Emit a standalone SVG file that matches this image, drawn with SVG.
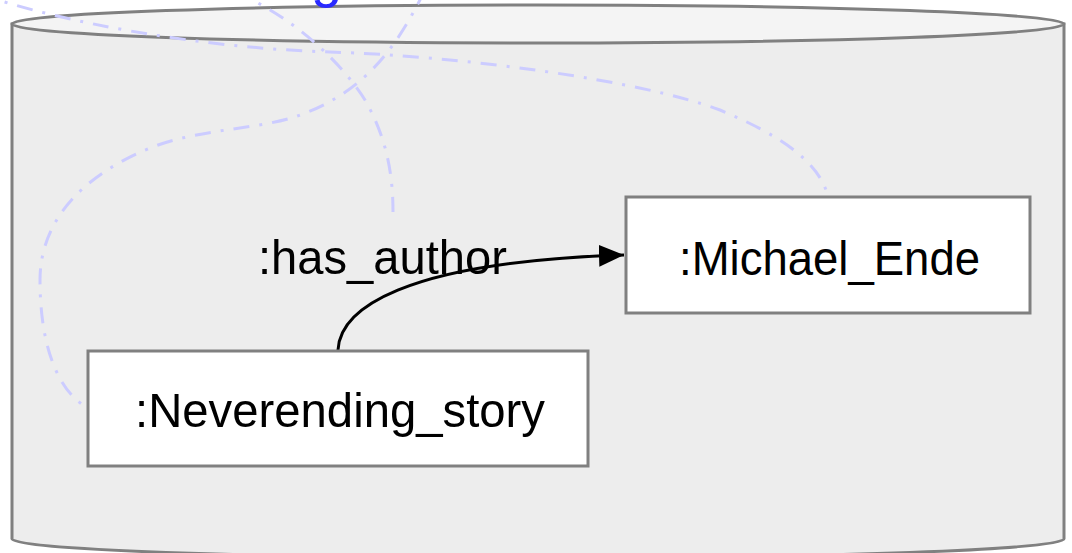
<svg xmlns="http://www.w3.org/2000/svg" width="1072" height="553" viewBox="0 0 1072 553">
  <defs>
    <style>
      .cyl { stroke: #808080; stroke-width: 3; }
      .dash { fill: none; stroke: #ccccff; stroke-width: 3; stroke-dasharray: 16 10 3 10; }
      .box { fill: #ffffff; stroke: #808080; stroke-width: 3; }
      .lbl { font-family: "Liberation Sans", Arial, sans-serif; font-size: 49px; fill: #000000; }
      .edge { fill: none; stroke: #000000; stroke-width: 3; }
    </style>
    <marker id="arrow" viewBox="0 0 25 22" refX="25" refY="11" markerWidth="25" markerHeight="22" markerUnits="userSpaceOnUse" orient="auto">
      <path d="M0,0 L25,11 L0,22 Z" fill="#000000"/>
    </marker>
  </defs>

  <g id="database">
    <path class="cyl" fill="#ededed" d="M12,24 L12,539 A526,19 0 0 0 1064,539 L1064,24 Z"/>
    <ellipse class="cyl" fill="#f4f4f4" cx="538" cy="24" rx="526" ry="19"/>
  </g>

  <text x="311" y="-4" font-family="Liberation Sans, Arial, sans-serif" font-size="56" fill="#2a2aff">g</text>

  <g id="connectors">
    <path class="dash" d="M-20,-6 C60,22 200,48 330,52 C460,56 640,80 720,110 C780,135 815,160 826,190"/>
    <path class="dash" d="M235,-8 C290,15 340,60 365,100 C385,135 393,170 393,212"/>
    <path class="dash" d="M425,-10 C400,40 370,90 300,115 C260,130 200,128 150,148 C60,185 40,240 40,280 C40,340 55,390 88,408"/>
    <path class="edge" d="M338,350 C340,310 400,262 624,255" marker-end="url(#arrow)"/>
    <text class="lbl" x="258" y="274" textLength="249" lengthAdjust="spacingAndGlyphs">:has_author</text>
  </g>

  <g id="node-neverending">
    <rect class="box" x="88" y="351" width="500" height="115"/>
    <text class="lbl" x="135" y="427" textLength="410" lengthAdjust="spacingAndGlyphs">:Neverending_story</text>
  </g>

  <g id="node-michael">
    <rect class="box" x="626" y="197" width="404" height="116"/>
    <text class="lbl" x="679" y="275" textLength="301" lengthAdjust="spacingAndGlyphs">:Michael_Ende</text>
  </g>
</svg>
